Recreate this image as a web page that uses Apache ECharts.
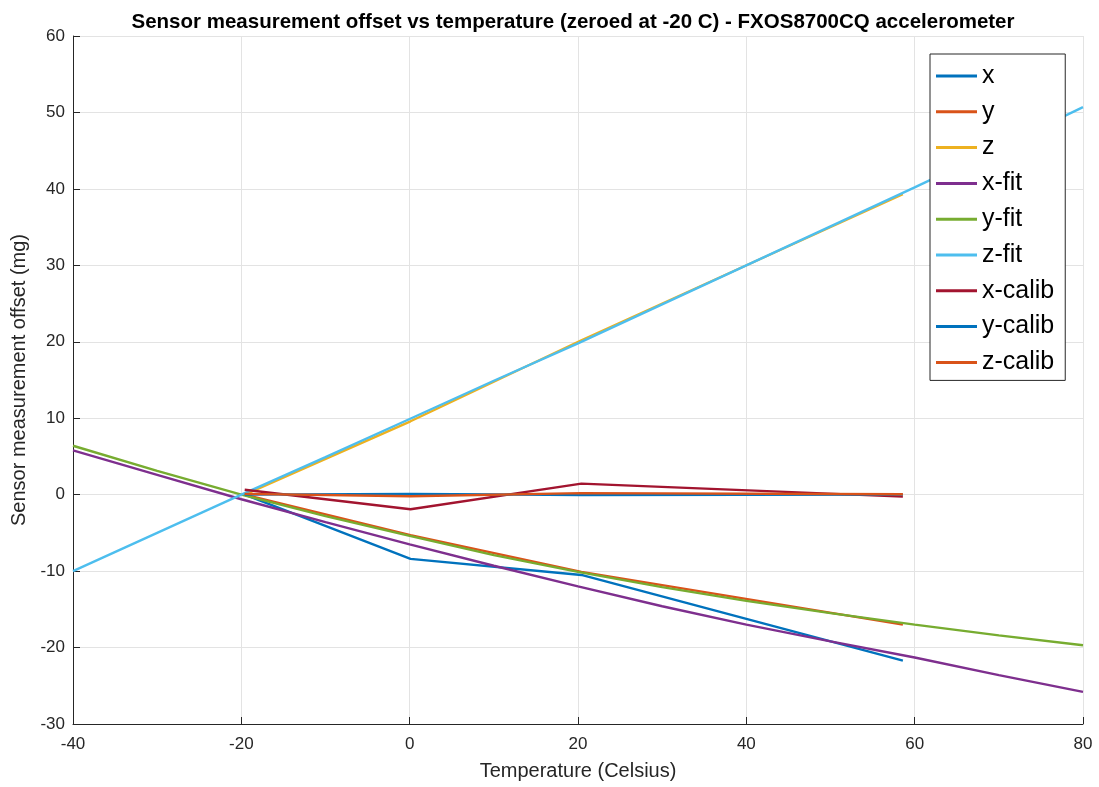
<!DOCTYPE html>
<html>
<head>
<meta charset="utf-8">
<title>Sensor measurement offset vs temperature</title>
<script src="https://cdn.jsdelivr.net/npm/echarts@6/dist/echarts.min.js"></script>
<style>
  html, body { margin: 0; padding: 0; background: #ffffff; }
  #chart { width: 1099px; height: 787px; }
</style>
</head>
<body>
<div id="chart"></div>
<script>
// Temperatures (Celsius) at which the sensor was measured
const calibTemps = [-19.6, 0.1, 20.4, 58.6];
// Raw offsets (mg), zeroed at -20 C
const xMeas = [0, -8.4, -10.5, -21.7];
const yMeas = [0, -5.3, -10.1, -17.0];
const zMeas = [0, 9.6, 20.2, 39.3];

// Fitted offset curves (mg) sampled across the full temperature range
const fitTemps = [-40, -30, -20, -10, 0, 10, 20, 30, 40, 50, 60, 70, 80];
const xFit = [5.8, 2.6, -0.6, -3.6, -6.5, -9.3, -12.0, -14.6, -17.0, -19.2, -21.3, -23.6, -25.8];
const yFit = [6.4, 3.1, 0.0, -2.8, -5.4, -7.9, -10.1, -12.1, -13.9, -15.5, -17.0, -18.4, -19.7];
const zFit = [-10.0, -5.0, 0.0, 4.9, 9.9, 14.9, 19.8, 24.9, 30.0, 35.1, 40.2, 45.4, 50.7];

// Residual offsets after calibration (mg)
const xCalib = [0.65, -1.9, 1.45, -0.25];
const yCalib = [0.0, 0.1, -0.05, 0.0];
const zCalib = [0.1, -0.2, 0.2, 0.05];

const xTicks = { min: -40, max: 80, step: 20 };
const yTicks = { min: -30, max: 60, step: 10 };

const colors = ['#0072BD', '#D95319', '#EDB120', '#7E2F8E', '#77AC30',
                '#4DBEEE', '#A2142F', '#0072BD', '#D95319'];

function pairs(xs, ys) { return xs.map((t, i) => [t, ys[i]]); }

const seriesDefs = [
  ['x', calibTemps, xMeas],
  ['y', calibTemps, yMeas],
  ['z', calibTemps, zMeas],
  ['x-fit', fitTemps, xFit],
  ['y-fit', fitTemps, yFit],
  ['z-fit', fitTemps, zFit],
  ['x-calib', calibTemps, xCalib],
  ['y-calib', calibTemps, yCalib],
  ['z-calib', calibTemps, zCalib]
];

const textColor = '#262626';
const gridColor = '#e3e3e3';
const fontFamily = '"Liberation Sans", Arial, Helvetica, sans-serif';

const chart = echarts.init(document.getElementById('chart'), null, { renderer: 'canvas' });

chart.setOption({
  animation: false,
  color: colors,
  textStyle: { fontFamily: fontFamily },
  title: {
    text: 'Sensor measurement offset vs temperature (zeroed at -20 C) - FXOS8700CQ accelerometer',
    left: 568, top: 7, textAlign: 'center',
    textStyle: { fontSize: 20.5, fontWeight: 'bold', color: '#000000', fontFamily: fontFamily }
  },
  grid: { left: 73, right: 16, top: 36, bottom: 63, containLabel: false },
  legend: {
    orient: 'vertical',
    left: 930, top: 54,
    padding: [9, 11, 5, 6],
    itemWidth: 41, itemHeight: 3,
    itemGap: 9.8,
    icon: 'rect',
    backgroundColor: '#ffffff',
    borderColor: '#262626', borderWidth: 1, borderRadius: 0,
    textStyle: { fontSize: 25, color: '#000000', lineHeight: 26, fontFamily: fontFamily },
    data: seriesDefs.map(d => d[0])
  },
  xAxis: {
    type: 'value',
    min: xTicks.min, max: xTicks.max, interval: xTicks.step,
    name: 'Temperature (Celsius)',
    nameLocation: 'middle', nameGap: 37,
    nameTextStyle: { fontSize: 20, color: textColor },
    axisLine: { show: true, onZero: false, lineStyle: { color: textColor, width: 1 } },
    axisTick: { show: true, inside: true, length: 7, lineStyle: { color: textColor } },
    axisLabel: { fontSize: 17, color: textColor, margin: 12 },
    splitLine: { show: true, lineStyle: { color: gridColor, width: 1 } }
  },
  yAxis: {
    type: 'value',
    min: yTicks.min, max: yTicks.max, interval: yTicks.step,
    name: 'Sensor measurement offset (mg)',
    nameLocation: 'middle', nameGap: 38, nameRotate: 90,
    nameTextStyle: { fontSize: 20, color: textColor },
    axisLine: { show: true, onZero: false, lineStyle: { color: textColor, width: 1 } },
    axisTick: { show: true, inside: true, length: 7, lineStyle: { color: textColor } },
    axisLabel: { fontSize: 17, color: textColor, margin: 8 },
    splitLine: { show: true, lineStyle: { color: gridColor, width: 1 } }
  },
  series: seriesDefs.map((d, i) => ({
    name: d[0],
    type: 'line',
    data: pairs(d[1], d[2]),
    symbol: 'none',
    smooth: false,
    lineStyle: { width: 2.4, color: colors[i] },
    itemStyle: { color: colors[i] },
    emphasis: { disabled: true }
  }))
});
</script>
</body>
</html>
